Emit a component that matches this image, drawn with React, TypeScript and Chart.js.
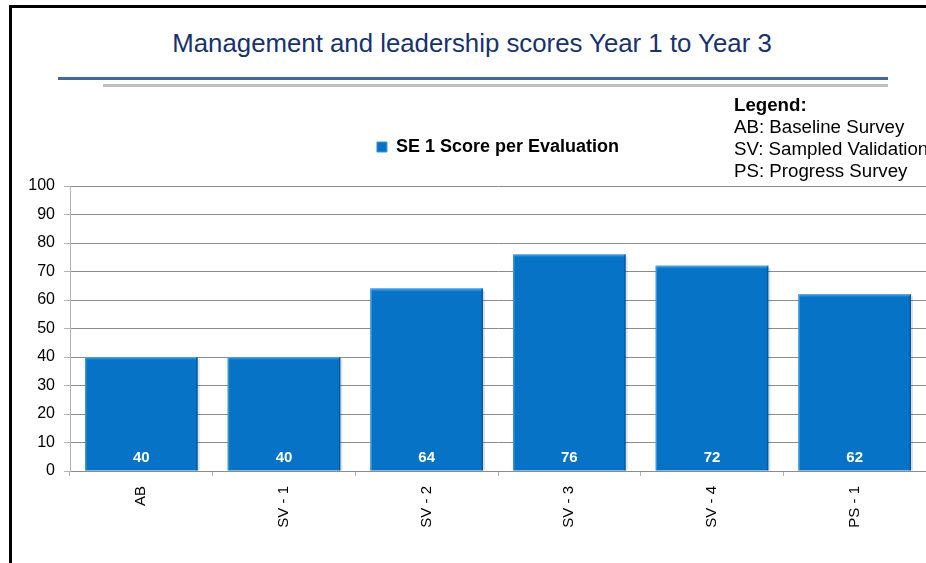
import React, { useEffect, useRef } from "react";
import { Chart, registerables } from "chart.js";

Chart.register(...registerables);

const titleText = "Management and leadership scores Year 1 to Year 3";
const seriesName = "SE 1 Score per Evaluation";
const categories = ["AB", "SV - 1", "SV - 2", "SV - 3", "SV - 4", "PS - 1"];
const scores = [40, 40, 64, 76, 72, 62];
const yMin = 0;
const yMax = 100;
const yStep = 10;
const legendHeading = "Legend:";
const legendNotes = ["AB: Baseline Survey", "SV: Sampled Validation", "PS: Progress Survey"];

const FONT = "Arial, 'Liberation Sans', Helvetica, sans-serif";
const BAR_COLOR = "#0673c6";

const bevelPlugin = {
  id: "bevel",
  afterDatasetsDraw(chart: any) {
    const ctx = chart.ctx;
    const meta = chart.getDatasetMeta(0);
    ctx.save();
    meta.data.forEach((bar: any) => {
      const { x, y, base, width } = bar.getProps(["x", "y", "base", "width"], true);
      const l = x - width / 2;
      const r = x + width / 2;
      const t = Math.min(y, base);
      const b = Math.max(y, base);
      ctx.fillStyle = "rgba(0,0,0,0.12)";
      ctx.fillRect(r, t + 2, 2, b - t - 2);
      const g = ctx.createLinearGradient(0, t, 0, t + 4);
      g.addColorStop(0, "#5fb0ee");
      g.addColorStop(1, "rgba(6,115,198,0)");
      ctx.fillStyle = g;
      ctx.beginPath();
      ctx.moveTo(l, t);
      ctx.lineTo(r, t);
      ctx.lineTo(r - 3, t + 4);
      ctx.lineTo(l + 3, t + 4);
      ctx.closePath();
      ctx.fill();
      ctx.fillStyle = "rgba(120,190,240,0.45)";
      ctx.fillRect(l, t, 1.5, b - t);
      ctx.fillStyle = "rgba(0,60,120,0.45)";
      ctx.fillRect(r - 1.5, t, 1.5, b - t);
    });
    ctx.restore();
  },
};

const valueLabelPlugin = {
  id: "valueLabels",
  afterDatasetsDraw(chart: any) {
    const ctx = chart.ctx;
    const meta = chart.getDatasetMeta(0);
    const data = chart.data.datasets[0].data;
    ctx.save();
    ctx.fillStyle = "#ffffff";
    ctx.font = `bold 15px ${FONT}`;
    ctx.textAlign = "center";
    ctx.textBaseline = "middle";
    meta.data.forEach((bar: any, i: number) => {
      const { x, base } = bar.getProps(["x", "base"], true);
      ctx.fillText(String(data[i]), x, base - 12.5);
    });
    ctx.restore();
  },
};

export default function App() {
  const canvasRef = useRef<HTMLCanvasElement | null>(null);

  useEffect(() => {
    if (!canvasRef.current) return;
    const chart = new Chart(canvasRef.current, {
      type: "bar",
      data: {
        labels: categories,
        datasets: [
          {
            label: seriesName,
            data: scores,
            backgroundColor: BAR_COLOR,
            borderWidth: 0,
            categoryPercentage: 1,
            barPercentage: 0.79,
          },
        ],
      },
      options: {
        animation: false,
        responsive: false,
        devicePixelRatio: 1,
        layout: { padding: { top: 128, right: 0, bottom: 0, left: 0 } },
        plugins: {
          title: { display: false },
          tooltip: { enabled: false },
          legend: {
            display: true,
            position: "top",
            fullSize: false,
            labels: {
              boxWidth: 10,
              boxHeight: 10,
              padding: 10,
              color: "#000",
              font: { family: FONT, size: 18, weight: "bold" },
              generateLabels: () => [
                {
                  text: seriesName,
                  fillStyle: BAR_COLOR,
                  strokeStyle: "#3d95dc",
                  lineWidth: 1,
                  hidden: false,
                  datasetIndex: 0,
                },
              ],
            },
          },
        },
        scales: {
          x: {
            type: "category",
            position: "bottom",
            offset: true,
            grid: {
              display: true,
              drawOnChartArea: false,
              drawTicks: true,
              tickLength: 5,
              tickColor: "#b3b3b3",
              offset: true,
            },
            border: { display: true, color: "#8c8c8c", width: 1 },
            ticks: {
              autoSkip: false,
              maxRotation: 90,
              minRotation: 90,
              padding: 10,
              color: "#000",
              font: { family: FONT, size: 15 },
            },
            afterFit: (s: any) => {
              s.height = 92;
            },
          },
          x2: {
            type: "category",
            position: "top",
            display: true,
            grid: { display: false, drawTicks: false },
            border: { display: false },
            ticks: { display: false },
            afterFit: (s: any) => {
              s.height = 20;
            },
          },
          y: {
            min: yMin,
            max: yMax,
            ticks: {
              stepSize: yStep,
              padding: 9,
              color: "#000",
              font: { family: FONT, size: 16 },
            },
            grid: {
              color: "#8c8c8c",
              lineWidth: 1,
              tickLength: 6,
              tickColor: "#b3b3b3",
            },
            border: { display: true, color: "#b3b3b3", width: 1 },
            afterFit: (s: any) => {
              s.width = 70;
            },
          },
        },
      },
      plugins: [bevelPlugin, valueLabelPlugin],
    });
    return () => chart.destroy();
  }, []);

  return (
    <div
      style={{
        position: "absolute",
        left: 0,
        top: 0,
        width: 926,
        height: 563,
        overflow: "hidden",
        background: "#fff",
        fontFamily: FONT,
      }}
    >
      <div style={{ position: "absolute", left: 9, top: 5, width: 917, height: 3, background: "#000" }} />
      <div style={{ position: "absolute", left: 9, top: 5, width: 3, height: 558, background: "#000" }} />
      <div
        style={{
          position: "absolute",
          left: 0,
          top: 31,
          width: 944,
          textAlign: "center",
          fontSize: 25.8,
          lineHeight: "25.8px",
          color: "#17326e",
          whiteSpace: "nowrap",
        }}
      >
        {titleText}
      </div>
      <div style={{ position: "absolute", left: 58, top: 77, width: 830, height: 3, background: "#3f6799" }} />
      <div style={{ position: "absolute", left: 103, top: 84, width: 785, height: 3, background: "#c0c0c0" }} />
      <canvas ref={canvasRef} width={926} height={563} style={{ position: "absolute", left: 0, top: 0 }} />
      <div
        style={{
          position: "absolute",
          left: 734,
          top: 94,
          fontSize: 18.7,
          lineHeight: "22px",
          color: "#000",
          whiteSpace: "nowrap",
        }}
      >
        <div style={{ fontWeight: "bold" }}>{legendHeading}</div>
        {legendNotes.map((n) => (
          <div key={n}>{n}</div>
        ))}
      </div>
    </div>
  );
}
